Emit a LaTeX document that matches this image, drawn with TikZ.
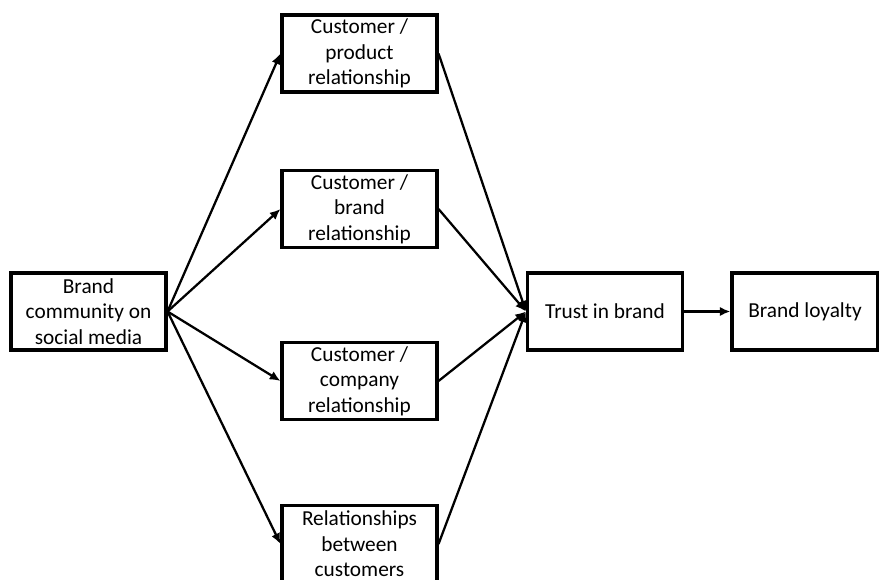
\documentclass[tikz,border=0pt]{standalone}
\usepackage{fontspec}
\setmainfont{Carlito}
\usetikzlibrary{arrows.meta}

\begin{document}
\begin{tikzpicture}[x=0.75pt, y=-0.75pt,
    box/.style={draw, line width=2.3pt, minimum width=116.25pt, minimum height=57.75pt,
      inner sep=0pt, align=center, font=\fontsize{16}{19.2}\selectfont},
    link/.style={line width=1.7pt, -{Latex[length=8pt, width=7pt]}}]
  \useasboundingbox (0,0) rectangle (879,579);
    % source and mediators
    \node[box] (src) at (88.5,311.5) {Brand\\ community on\\ social media};
    \node[box] (prod) at (359.5,53.5) {Customer /\\ product\\ relationship};
    \node[box] (brand) at (359.5,209) {Customer /\\ brand\\ relationship};
    \node[box] (comp) at (359.5,381) {Customer /\\ company\\ relationship};
    \node[box] (cust) at (359.5,544) {Relationships\\ between\\ customers};
    % outcomes
    \node[box] (trust) at (605,311.5) {Trust in brand};
    \node[box, minimum width=109.5pt] (loyal) at (805,311.5) {Brand loyalty};

    \foreach \m in {prod, brand, comp, cust} {
      \draw[link] (src.east) -- (\m.west);
      \draw[link] (\m.east) -- (trust.west);
    }
    \draw[link] (trust) -- (loyal);
\end{tikzpicture}
\end{document}
